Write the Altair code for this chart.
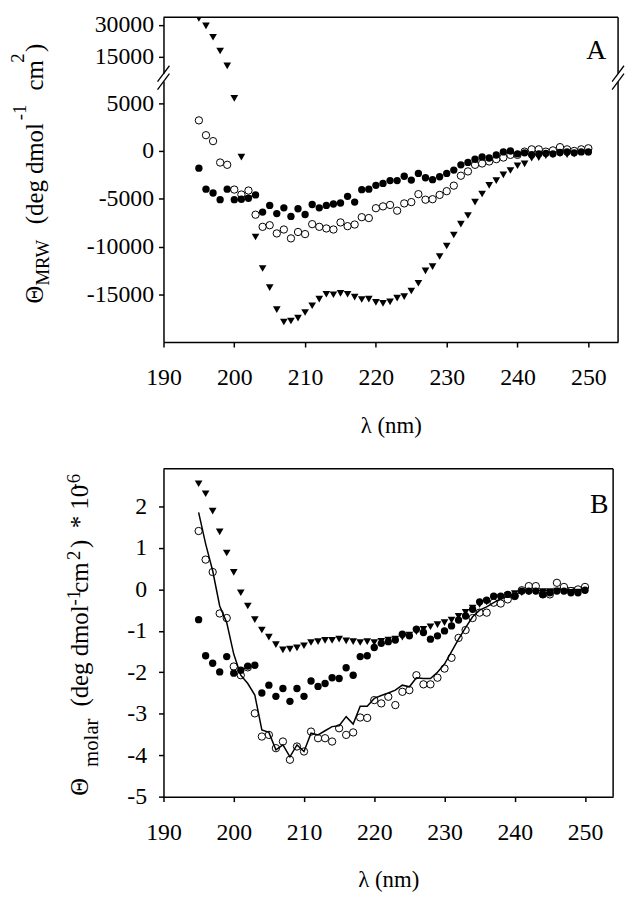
import altair as alt
import pandas as pd

FONT = "Liberation Serif"

wavelength = list(range(195, 251))

a_filled = [-1800, -4000, -4400, -5100, -4000, -5100, -5050, -4950, -4600, -6400,
            -5700, -6550, -5950, -6850, -6050, -6650, -5600, -5950, -5700, -5550,
            -5450, -4750, -5350, -4050, -4000, -3600, -3400, -3100, -3100, -2650,
            -3050, -2350, -2800, -3000, -2700, -2350, -2000, -1450, -1200, -870,
            -620, -740, -420, -100, 0, -300, -200, -400, -300, -250,
            -300, -150, -100, -200, -100, -100]
a_open = [3200, 1650, 1030, -1210, -1450, -4040, -4560, -4140, -6670, -7940,
          -7770, -8630, -8220, -9150, -8480, -8700, -7660, -7940, -8110, -8220,
          -7480, -7870, -7700, -6930, -7020, -5990, -5800, -5650, -6250, -5490,
          -5350, -4520, -5100, -5050, -4600, -4210, -3630, -2590, -2140, -1450,
          -1310, -1100, -860, -690, -410, -410, -70, 170, 170, -70,
          60, 400, 170, 0, 170, 280]
a_tri = [33000, 29500, 24200, 17800, 10900, 5500, -650, -5000, -9000, -12300,
         -14300, -16600, -17900, -17800, -17500, -16900, -16200, -15500, -15000, -15050,
         -14900, -15000, -15300, -15550, -15500, -15850, -15950, -15800, -15400, -15250,
         -14650, -13850, -12550, -12100, -11050, -9950, -8800, -7650, -6750, -5350,
         -4500, -3600, -3100, -2500, -2050, -1550, -1350, -750, -700, -500,
         -400, -300, -400, -300, -100, -150]

b_filled = [-0.73, -1.60, -1.78, -1.99, -1.62, -2.02, -1.95, -1.85, -1.83, -2.50,
            -2.31, -2.58, -2.39, -2.70, -2.39, -2.58, -2.21, -2.34, -2.27, -2.13,
            -2.15, -1.89, -2.07, -1.62, -1.60, -1.40, -1.30, -1.26, -1.22, -1.08,
            -1.12, -0.96, -1.04, -1.20, -1.12, -1.00, -0.88, -0.74, -0.64, -0.48,
            -0.30, -0.26, -0.16, -0.16, -0.12, -0.16, -0.04, -0.04, -0.04, -0.12,
            -0.08, -0.04, -0.04, -0.08, -0.08, -0.02]
b_open = [1.41, 0.72, 0.42, -0.58, -0.69, -1.86, -2.07, -1.88, -2.99, -3.55,
          -3.51, -3.83, -3.67, -4.11, -3.79, -3.91, -3.43, -3.59, -3.59, -3.67,
          -3.35, -3.51, -3.45, -3.09, -3.10, -2.67, -2.75, -2.59, -2.79, -2.47,
          -2.43, -2.07, -2.29, -2.29, -2.13, -1.91, -1.65, -1.17, -0.98, -0.69,
          -0.56, -0.56, -0.32, -0.34, -0.24, -0.16, -0.02, 0.08, 0.08, -0.12,
          -0.12, 0.16, 0.06, -0.04, 0.00, 0.06]
b_tri = [2.55, 2.31, 1.89, 1.39, 0.88, 0.41, -0.08, -0.40, -0.73, -0.98,
         -1.15, -1.33, -1.46, -1.44, -1.41, -1.36, -1.28, -1.26, -1.23, -1.23,
         -1.20, -1.24, -1.26, -1.28, -1.26, -1.28, -1.25, -1.22, -1.20, -1.15,
         -1.10, -1.02, -0.96, -0.90, -0.85, -0.80, -0.74, -0.65, -0.55, -0.45,
         -0.36, -0.30, -0.25, -0.20, -0.15, -0.10, -0.08, -0.06, -0.05, -0.05,
         -0.05, -0.04, -0.04, -0.03, -0.03, -0.02]
b_fit = [1.86, 1.10, 0.45, -0.40, -0.80, -1.56, -2.07, -2.27, -2.55, -3.39,
         -3.45, -3.87, -3.75, -4.04, -3.75, -3.91, -3.47, -3.51, -3.41, -3.31,
         -3.29, -3.07, -3.25, -2.82, -2.82, -2.63, -2.56, -2.50, -2.43, -2.31,
         -2.35, -2.13, -2.15, -2.15, -2.00, -1.80, -1.50, -1.20, -0.92, -0.66,
         -0.50, -0.42, -0.32, -0.22, -0.16, -0.12, -0.06, -0.03, -0.03, -0.02,
         -0.02, -0.01, -0.01, -0.01, 0.00, 0.00]

x_ticks = [190, 200, 210, 220, 230, 240, 250]
a_y_ticks = [-15000, -10000, -5000, 0, 5000, 15000, 30000]
b_y_ticks = [-5, -4, -3, -2, -1, 0, 1, 2]

dfa = pd.DataFrame({"wl": wavelength, "filled": a_filled, "open": a_open, "tri": a_tri})
dfb = pd.DataFrame({"wl": wavelength, "filled": b_filled, "open": b_open,
                    "tri": b_tri, "fit": b_fit})
one = pd.DataFrame({"k": [0]})

WA, HA = 459, 328
WB, HB = 454, 331
SYM = 55
LW = 1.5


def x_enc(xmax):
    return alt.X("wl:Q",
                 scale=alt.Scale(domain=[190, xmax], nice=False, zero=False),
                 axis=alt.Axis(values=x_ticks, title="λ (nm)", labelPadding=19,
                               titlePadding=25, labelFlush=False,
                               labelFont=FONT, titleFont=FONT))


def frame(w, h):
    top = alt.Chart(one).mark_rule(color="black", strokeWidth=LW).encode(
        x=alt.value(0), x2=alt.value(w), y=alt.value(0))
    right = alt.Chart(one).mark_rule(color="black", strokeWidth=LW).encode(
        x=alt.value(w), y=alt.value(0), y2=alt.value(h))
    return [top, right]


def piece(text, x, y, size):
    return alt.Chart(one).mark_text(text=text, angle=270, align="left",
                                    baseline="alphabetic", font=FONT,
                                    fontSize=size, color="black").encode(
        x=alt.value(x), y=alt.value(y))


def label(text, x, y):
    return alt.Chart(one).mark_text(text=text, align="center", baseline="alphabetic",
                                    font=FONT, fontSize=28, color="black").encode(
        x=alt.value(x), y=alt.value(y))


def break_mark(x, yb):
    cover = alt.Chart(one).mark_rule(color="white", strokeWidth=6).encode(
        x=alt.value(x), y=alt.value(yb - 4), y2=alt.value(yb + 4))
    s1 = alt.Chart(one).mark_rule(color="black", strokeWidth=1.3).encode(
        x=alt.value(x - 6), x2=alt.value(x + 6), y=alt.value(yb - 4 + 8), y2=alt.value(yb - 4 - 8))
    s2 = alt.Chart(one).mark_rule(color="black", strokeWidth=1.3).encode(
        x=alt.value(x - 6), x2=alt.value(x + 6), y=alt.value(yb + 4 + 8), y2=alt.value(yb + 4 - 8))
    return [cover, s1, s2]


# ---------- Panel A (broken y axis through a piecewise scale) ----------
xa = x_enc(254.2)
ya_scale = alt.Scale(domain=[-20000, 5600, 10000, 33540], range=[HA, 81, 51, 0],
                     nice=False, zero=False)
ya_axis = alt.Axis(values=a_y_ticks, title=None, labelExpr="'' + datum.value",
                   labelPadding=5, labelFont=FONT)

a_tri_l = alt.Chart(dfa).mark_point(shape="triangle-down", filled=True, color="black",
                                    size=SYM + 5, opacity=1, clip=True).encode(
    x=xa, y=alt.Y("tri:Q", scale=ya_scale, axis=ya_axis))
a_open_l = alt.Chart(dfa).mark_point(shape="circle", fill="white", stroke="black",
                                     strokeWidth=1, size=SYM, opacity=1, fillOpacity=1).encode(
    x=xa, y=alt.Y("open:Q", scale=ya_scale, axis=ya_axis))
a_fill_l = alt.Chart(dfa).mark_circle(color="black", size=SYM, opacity=1).encode(
    x=xa, y=alt.Y("filled:Q", scale=ya_scale, axis=ya_axis))

YB = 61
a_title = [
    piece("Θ", -122, 289, 25),
    piece("MRW", -116, 271, 19),
    piece("(deg dmol", -122, 209, 25),
    piece("-1", -139, 104, 19),
    piece("cm", -122, 74, 25),
    piece("2", -141, 46, 19),
    piece(")", -122, 35, 25),
]
panel_a = alt.layer(
    *frame(WA, HA), a_tri_l, a_open_l, a_fill_l,
    *break_mark(0, YB), *break_mark(WA, YB),
    *a_title, label("A", 437, 42),
).properties(width=WA, height=HA)

# ---------- Panel B ----------
xb = x_enc(254)
yb_scale = alt.Scale(domain=[-5, 2.91], nice=False, zero=False)
yb_axis = alt.Axis(values=b_y_ticks, title=None, labelExpr="'' + datum.value",
                   labelPadding=12, labelFont=FONT)

b_tri_l = alt.Chart(dfb).mark_point(shape="triangle-down", filled=True, color="black",
                                    size=SYM + 5, opacity=1).encode(
    x=xb, y=alt.Y("tri:Q", scale=yb_scale, axis=yb_axis))
b_open_l = alt.Chart(dfb).mark_point(shape="circle", fill="white", stroke="black",
                                     strokeWidth=1, size=SYM, opacity=1, fillOpacity=1).encode(
    x=xb, y=alt.Y("open:Q", scale=yb_scale, axis=yb_axis))
b_fill_l = alt.Chart(dfb).mark_circle(color="black", size=SYM, opacity=1).encode(
    x=xb, y=alt.Y("filled:Q", scale=yb_scale, axis=yb_axis))
b_fit_l = alt.Chart(dfb).mark_line(color="black", strokeWidth=1.5).encode(
    x=xb, y=alt.Y("fit:Q", scale=yb_scale, axis=yb_axis))

b_title = [
    piece("Θ", -76, 330, 25),
    piece("molar", -66, 301, 21),
    piece("(deg dmol", -76, 240, 25),
    piece("-1", -84, 138, 19),
    piece("cm", -76, 125, 25),
    piece("2", -84, 92, 19),
    piece(")", -76, 80, 25),
    piece("* 10", -76, 60, 25),
    piece("-6", -84, 21, 19),
]
panel_b = alt.layer(
    *frame(WB, HB), b_tri_l, b_open_l, b_fill_l, b_fit_l,
    *b_title, label("B", 440, 45),
).properties(width=WB, height=HB)

chart = alt.vconcat(panel_a, panel_b, spacing=31).properties(
    padding={"left": 1, "top": 0, "right": 0, "bottom": 0}, background="white"
).configure(font=FONT).configure_axis(
    domainColor="black", domainWidth=LW, tickColor="black", tickWidth=LW, tickSize=5,
    labelFont=FONT, labelFontSize=24, labelColor="black",
    titleFont=FONT, titleFontSize=23, titleFontWeight="normal", titleColor="black",
    grid=False,
).configure_text(font=FONT).configure_view(stroke=None)

chart.save("out.html", embed_options={"renderer": "svg", "actions": False})
